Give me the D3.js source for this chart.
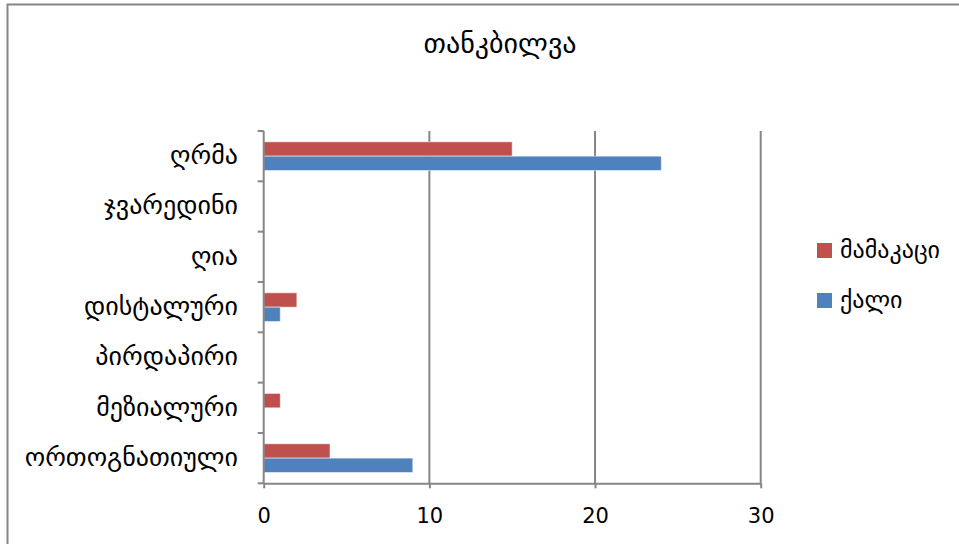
<!DOCTYPE html>
<html><head><meta charset="utf-8">
<script src="https://cdn.jsdelivr.net/npm/d3@7"></script>
<style>body{margin:0;background:#fff}svg{display:block}text{font-family:"DejaVu Sans",sans-serif}</style>
</head><body><svg id="c" width="959" height="544"></svg>
<script>
const title = "თანკბილვა";
const categories = ["ღრმა","ჯვარედინი","ღია","დისტალური","პირდაპირი","მეზიალური","ორთოგნათიული"];
const seriesNames = ["მამაკაცი","ქალი"];
const maleValues = [15,0,0,2,0,1,4];
const femaleValues = [24,0,0,1,0,0,9];
const xTicks = [0,10,20,30];
const colors = ["#C0504D","#4F81BD"];

const svg = d3.select("#c");
svg.append("rect").attr("x",7.5).attr("y",4.5).attr("width",960).attr("height",560)
  .attr("fill","#fff").attr("stroke","#868686").attr("stroke-width",2);

const L=263.7,R=760.7,T=131,B=483.3;
const x = d3.scaleLinear().domain([0,30]).range([L,R]);
const y = d3.scaleBand().domain(categories).range([T,B]).paddingInner(0.43).paddingOuter(0.215);
const sub = d3.scaleBand().domain(seriesNames).range([0,y.bandwidth()]);

// gridlines
svg.append("g").selectAll("line").data(xTicks.slice(1)).join("line")
  .attr("x1",d=>x(d)).attr("x2",d=>x(d)).attr("y1",T).attr("y2",B)
  .attr("stroke","#868686").attr("stroke-width",2);

const seriesData = [maleValues,femaleValues];
seriesNames.forEach((s,i)=>{
  svg.append("g").selectAll("rect").data(categories).join("rect")
    .attr("x",x(0)).attr("y",c=>y(c)+sub(s))
    .attr("width",(c,j)=>x(seriesData[i][j])-x(0)).attr("height",sub.bandwidth())
    .attr("fill",colors[i]).attr("stroke",seriesData[i].some(v=>v)?"rgba(255,255,255,0.5)":"none").attr("stroke-width",1);
});

// x axis
const xa = svg.append("g").attr("transform",`translate(0,${B})`)
  .call(d3.axisBottom(x).tickValues(xTicks).tickSize(5).tickPadding(20).tickSizeOuter(0));
xa.select(".domain").attr("stroke","#868686").attr("stroke-width",2);
xa.selectAll(".tick line").attr("stroke","#868686").attr("stroke-width",2);
xa.selectAll("text").attr("font-size",21).attr("fill","#000").attr("font-family","Calibri, Carlito, 'Liberation Sans', sans-serif");

// y axis
const yEdges = d3.range(categories.length+1).map(i=>T+(B-T)*i/categories.length);
svg.append("line").attr("x1",L).attr("x2",L).attr("y1",T).attr("y2",B).attr("stroke","#868686").attr("stroke-width",2);
svg.append("g").selectAll("line").data(yEdges).join("line")
  .attr("x1",L-6).attr("x2",L).attr("y1",d=>d).attr("y2",d=>d).attr("stroke","#868686").attr("stroke-width",2);
svg.append("g").selectAll("text").data(categories).join("text")
  .attr("x",238).attr("y",c=>y(c)+y.bandwidth()/2).attr("dy","0.3em")
  .attr("text-anchor","end").attr("font-size",26).attr("fill","#000").text(d=>d);

// title
svg.append("text").attr("x",500).attr("y",53).attr("text-anchor","middle").attr("font-size",28).attr("fill","#000").text(title);

// legend
seriesNames.forEach((s,i)=>{
  const g = svg.append("g").attr("transform",`translate(817,${243+i*50})`);
  g.append("rect").attr("width",15).attr("height",15).attr("fill",colors[i]);
  g.append("text").attr("x",23).attr("y",8).attr("dy","0.3em").attr("font-size",24).attr("fill","#000").text(s);
});
</script></body></html>
